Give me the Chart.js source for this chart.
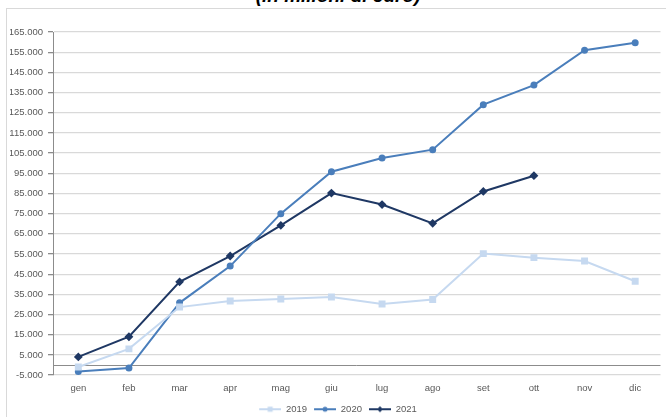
<!DOCTYPE html>
<html>
<head>
<meta charset="utf-8">
<script src="https://cdn.jsdelivr.net/npm/chart.js@4.4.0/dist/chart.umd.min.js"></script>
<style>
  html, body { margin: 0; padding: 0; background: #fff; overflow: hidden; }
  #wrap { position: relative; width: 666px; height: 417px; }
  #frame { position: absolute; left: 6px; top: 8px; width: 700px; height: 500px; border: 1px solid #d9d9d9; box-sizing: border-box; }
  #title { position: absolute; left: 0; width: 676px; top: -14px; text-align: center; font: italic bold 19px "Liberation Sans", Arial, sans-serif; line-height: 19px; color: #000; }
  #box { position: absolute; left: 0; top: 0; width: 666px; height: 417px; }
</style>
</head>
<body>
<div id="wrap">
  <div id="frame"></div>
  <div id="title">(in milioni di euro)</div>
  <div id="box"><canvas id="chart"></canvas></div>
</div>
<script>
const months = ['gen', 'feb', 'mar', 'apr', 'mag', 'giu', 'lug', 'ago', 'set', 'ott', 'nov', 'dic'];
const y2019 = [-1000, 8000, 28700, 31700, 32700, 33700, 30200, 32500, 55200, 53200, 51500, 41500];
const y2020 = [-3200, -1500, 30800, 49000, 75000, 95800, 102600, 106700, 129000, 138700, 156000, 159700];
const y2021 = [4000, 14000, 41200, 54000, 69200, 85200, 79500, 70200, 86000, 93800, null, null];

const fmt = (v) => {
  const s = String(Math.abs(v)).replace(/\B(?=(\d{3})+(?!\d))/g, '.');
  return (v < 0 ? '-' : '') + s;
};

// little line+marker picture for the legend (4px blank on the left as spacing)
const legendIcon = (color, style) => {
  const c = document.createElement('canvas');
  c.width = 27; c.height = 8;
  const g = c.getContext('2d');
  g.strokeStyle = color; g.lineWidth = 2;
  g.beginPath(); g.moveTo(5, 4); g.lineTo(27, 4); g.stroke();
  g.fillStyle = color;
  const cx = 16;
  if (style === 'rect') g.fillRect(cx - 2.5, 1.5, 5, 5);
  else if (style === 'circle') { g.beginPath(); g.arc(cx, 4, 2.5, 0, Math.PI * 2); g.fill(); }
  else { g.beginPath(); g.moveTo(cx, 1); g.lineTo(cx + 3, 4); g.lineTo(cx, 7); g.lineTo(cx - 3, 4); g.closePath(); g.fill(); }
  return c;
};

const zeroLine = {
  id: 'zeroLine',
  beforeDatasetsDraw(chart) {
    const {ctx, chartArea, scales} = chart;
    const y = Math.round(scales.y.getPixelForValue(0)) + 0.5;
    ctx.save();
    ctx.strokeStyle = '#8c8c8c';
    ctx.lineWidth = 1;
    ctx.beginPath(); ctx.moveTo(chartArea.left, y); ctx.lineTo(chartArea.right, y); ctx.stroke();
    ctx.restore();
  }
};

const series = [
  {label: '2019', data: y2019, color: '#c6d9f0', style: 'rect', r: 3.5},
  {label: '2020', data: y2020, color: '#4a7ebb', style: 'circle', r: 2.5},
  {label: '2021', data: y2021, color: '#1f3864', style: 'rectRot', r: 3}
];

new Chart(document.getElementById('chart'), {
  type: 'line',
  data: {
    labels: months,
    datasets: series.map(s => ({
      label: s.label,
      data: s.data,
      borderColor: s.color,
      backgroundColor: s.color,
      borderWidth: 2,
      pointStyle: s.style,
      pointRadius: s.r,
      pointHoverRadius: s.r,
      tension: 0,
      spanGaps: false
    }))
  },
  options: {
    responsive: true,
    maintainAspectRatio: false,
    animation: false,
    layout: {padding: {top: 32, right: 5, left: 10, bottom: -7}},
    scales: {
      y: {
        min: -5000,
        max: 165000,
        afterFit: (s) => { s.width = 43; },
        ticks: {
          stepSize: 10000,
          color: '#595959',
          padding: 5,
          font: {family: '"Liberation Sans Narrow", "Liberation Sans", Arial', size: 9.5},
          callback: (v) => fmt(v)
        },
        grid: {
          color: '#d9d9d9',
          lineWidth: 1.3,
          tickLength: 5,
          tickColor: '#8c8c8c'
        },
        border: {color: '#8c8c8c', width: 1}
      },
      x: {
        offset: true,
        grid: {display: false, drawTicks: false},
        border: {display: false},
        ticks: {
          color: '#595959',
          padding: 8,
          font: {family: '"Liberation Sans Narrow", "Liberation Sans", Arial', size: 9.5}
        }
      }
    },
    plugins: {
      legend: {
        position: 'bottom',
        labels: {
          usePointStyle: true,
          pointStyleWidth: 27,
          boxHeight: 8,
          padding: 2,
          color: '#595959',
          font: {family: '"Liberation Sans Narrow", "Liberation Sans", Arial', size: 9.5},
          generateLabels: (chart) => series.map((s, i) => ({
            text: s.label,
            pointStyle: legendIcon(s.color, s.style),
            fillStyle: s.color,
            strokeStyle: s.color,
            lineWidth: 0,
            hidden: false,
            datasetIndex: i,
            fontColor: '#595959'
          }))
        }
      },
      tooltip: {enabled: false}
    }
  },
  plugins: [zeroLine]
});
</script>
</body>
</html>
